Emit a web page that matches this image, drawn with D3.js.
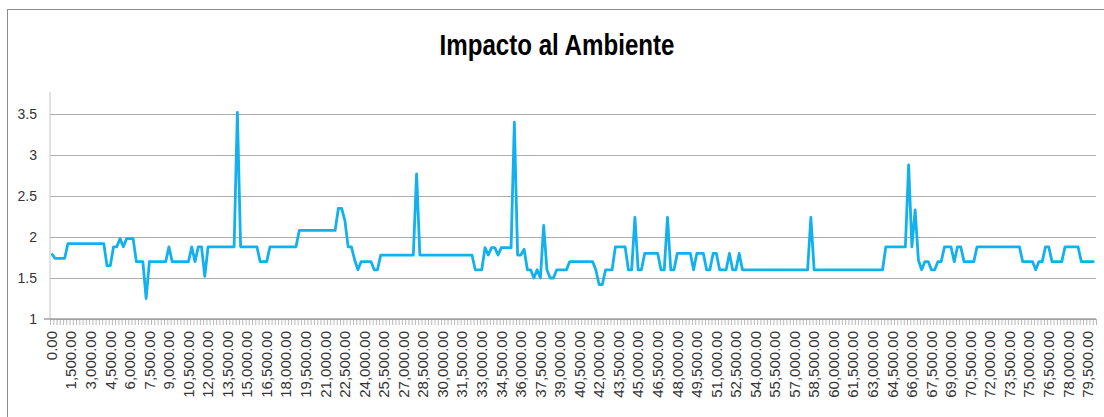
<!DOCTYPE html>
<html>
<head>
<meta charset="utf-8">
<script src="https://cdn.jsdelivr.net/npm/d3@7"></script>
<style>
  body { margin: 0; background: #fff; }
  svg { display: block; }
  text { font-family: "Liberation Sans", Arial, sans-serif; }
</style>
</head>
<body>
<svg width="1104" height="417"></svg>
<script>
// **** data ****
var title = 'Impacto al Ambiente'

// x categories: 0 .. 80,000 every 250
var categories = d3.range(0, 80001, 250)
// only every 6th category is labelled (every 1,500)
var labelledCategories = categories.filter(function(d){ return d % 1500 === 0 })

var yTicks = [1, 1.5, 2, 2.5, 3, 3.5]

var impacto = [
  1.80,1.74,1.74,1.74,1.74,1.92,1.92,1.92,1.92,1.92,1.92,1.92,1.92,1.92,1.92,1.92,1.92,1.65,1.65,1.88,
  1.88,1.98,1.88,1.98,1.98,1.98,1.70,1.70,1.70,1.25,1.70,1.70,1.70,1.70,1.70,1.70,1.88,1.70,1.70,1.70,
  1.70,1.70,1.70,1.88,1.70,1.88,1.88,1.52,1.88,1.88,1.88,1.88,1.88,1.88,1.88,1.88,1.88,3.52,1.88,1.88,
  1.88,1.88,1.88,1.88,1.70,1.70,1.70,1.88,1.88,1.88,1.88,1.88,1.88,1.88,1.88,1.88,2.08,2.08,2.08,2.08,
  2.08,2.08,2.08,2.08,2.08,2.08,2.08,2.08,2.35,2.35,2.20,1.88,1.88,1.72,1.60,1.70,1.70,1.70,1.70,1.60,
  1.60,1.78,1.78,1.78,1.78,1.78,1.78,1.78,1.78,1.78,1.78,1.78,2.77,1.78,1.78,1.78,1.78,1.78,1.78,1.78,
  1.78,1.78,1.78,1.78,1.78,1.78,1.78,1.78,1.78,1.78,1.60,1.60,1.60,1.87,1.78,1.87,1.87,1.78,1.87,1.87,
  1.87,1.87,3.40,1.78,1.78,1.85,1.60,1.60,1.50,1.60,1.50,2.14,1.60,1.50,1.50,1.60,1.60,1.60,1.60,1.70,
  1.70,1.70,1.70,1.70,1.70,1.70,1.70,1.60,1.42,1.42,1.60,1.60,1.60,1.88,1.88,1.88,1.88,1.60,1.60,2.24,
  1.60,1.60,1.80,1.80,1.80,1.80,1.80,1.60,1.60,2.24,1.60,1.60,1.80,1.80,1.80,1.80,1.80,1.60,1.80,1.80,
  1.80,1.60,1.60,1.80,1.80,1.60,1.60,1.60,1.80,1.60,1.60,1.80,1.60,1.60,1.60,1.60,1.60,1.60,1.60,1.60,
  1.60,1.60,1.60,1.60,1.60,1.60,1.60,1.60,1.60,1.60,1.60,1.60,1.60,2.24,1.60,1.60,1.60,1.60,1.60,1.60,
  1.60,1.60,1.60,1.60,1.60,1.60,1.60,1.60,1.60,1.60,1.60,1.60,1.60,1.60,1.60,1.60,1.88,1.88,1.88,1.88,
  1.88,1.88,1.88,2.88,1.88,2.33,1.72,1.60,1.70,1.70,1.60,1.60,1.70,1.70,1.88,1.88,1.88,1.70,1.88,1.88,
  1.70,1.70,1.70,1.70,1.88,1.88,1.88,1.88,1.88,1.88,1.88,1.88,1.88,1.88,1.88,1.88,1.88,1.88,1.70,1.70,
  1.70,1.70,1.60,1.70,1.70,1.88,1.88,1.70,1.70,1.70,1.70,1.88,1.88,1.88,1.88,1.88,1.70,1.70,1.70,1.70,1.70
]
console.log(categories.length, impacto.length)

var data = categories.map(function(c, i){ return {x: c, y: impacto[i]} })

var svg = d3.select('svg')

/**
 * Scales
 */
var plotLeft = 50, plotRight = 1096
var xScale = d3.scaleBand().domain(categories).range([plotLeft, plotRight]).padding(0)
var xEdge = d3.scaleLinear().domain([0, categories.length]).range([plotLeft, plotRight])
var yScale = d3.scaleLinear().domain([1, 3.5]).range([319, 114])
var yTop = yScale(3.77)

/**
 * Chart border (cut off at right and bottom)
 */
svg.append('line').attr('x1', 7).attr('x2', 1104).attr('y1', 9.5).attr('y2', 9.5)
  .attr('stroke', '#8c8c8c').attr('stroke-width', 1)
svg.append('line').attr('x1', 7.5).attr('x2', 7.5).attr('y1', 9).attr('y2', 417)
  .attr('stroke', '#8c8c8c').attr('stroke-width', 1)

/**
 * Title
 */
svg.append('text')
  .text(title)
  .attr('x', 557)
  .attr('y', 55)
  .attr('text-anchor', 'middle')
  .attr('textLength', 235)
  .attr('lengthAdjust', 'spacingAndGlyphs')
  .style('font-size', '30px')
  .style('font-weight', 'bold')
  .attr('fill', '#000')

/**
 * Gridlines + y axis
 */
var yAxis = d3.axisLeft(yScale).tickValues(yTicks).tickSize(-(plotRight - plotLeft)).tickPadding(13)
  .tickFormat(function(d){ return d3.format('')(d) })
var gy = svg.append('g').attr('class', 'y-axis')
  .attr('transform', 'translate(' + plotLeft + ',0)')
  .call(yAxis)
gy.select('.domain').remove()
gy.selectAll('.tick line').attr('stroke', '#adadad').attr('stroke-width', 1.2)
gy.selectAll('.tick text').style('font-size', '14px').attr('fill', '#333')

svg.append('line')
  .attr('x1', plotLeft).attr('x2', plotLeft)
  .attr('y1', yTop).attr('y2', yScale(1))
  .attr('stroke', '#c4c4c4').attr('stroke-width', 1)

/**
 * X axis: minor ticks at each category edge, labels every 1,500
 */
var minorAxis = d3.axisBottom(xEdge).tickValues(d3.range(categories.length + 1))
  .tickSize(6).tickFormat('')
var gm = svg.append('g').attr('class', 'x-minor')
  .attr('transform', 'translate(0,' + yScale(1) + ')')
  .call(minorAxis)
gm.select('.domain').remove()
gm.selectAll('.tick line').attr('stroke', '#a8a8a8').attr('stroke-width', 0.8)

svg.append('line')
  .attr('x1', 44).attr('x2', plotRight)
  .attr('y1', yScale(1)).attr('y2', yScale(1))
  .attr('stroke', '#a0a0a0').attr('stroke-width', 1.3)

var xAxis = d3.axisBottom(xScale).tickValues(labelledCategories).tickSize(0)
  .tickFormat(d3.format(',.2f'))
var gx = svg.append('g').attr('class', 'x-axis')
  .attr('transform', 'translate(0,' + yScale(1) + ')')
  .call(xAxis)
gx.select('.domain').remove()
gx.selectAll('.tick text')
  .attr('transform', 'rotate(-90)')
  .attr('text-anchor', 'end')
  .attr('x', -12)
  .attr('y', 0)
  .attr('dy', '0.35em')
  .style('font-size', '15px')
  .attr('fill', '#333')

/**
 * Line
 */
var line = d3.line()
  .x(function(d){ return xScale(d.x) + xScale.bandwidth() / 2 })
  .y(function(d){ return yScale(d.y) })

svg.append('path')
  .datum(data)
  .attr('d', line)
  .attr('fill', 'none')
  .attr('stroke', '#12b1ee')
  .attr('stroke-width', 2.8)
  .attr('stroke-linejoin', 'round')
</script>
</body>
</html>
